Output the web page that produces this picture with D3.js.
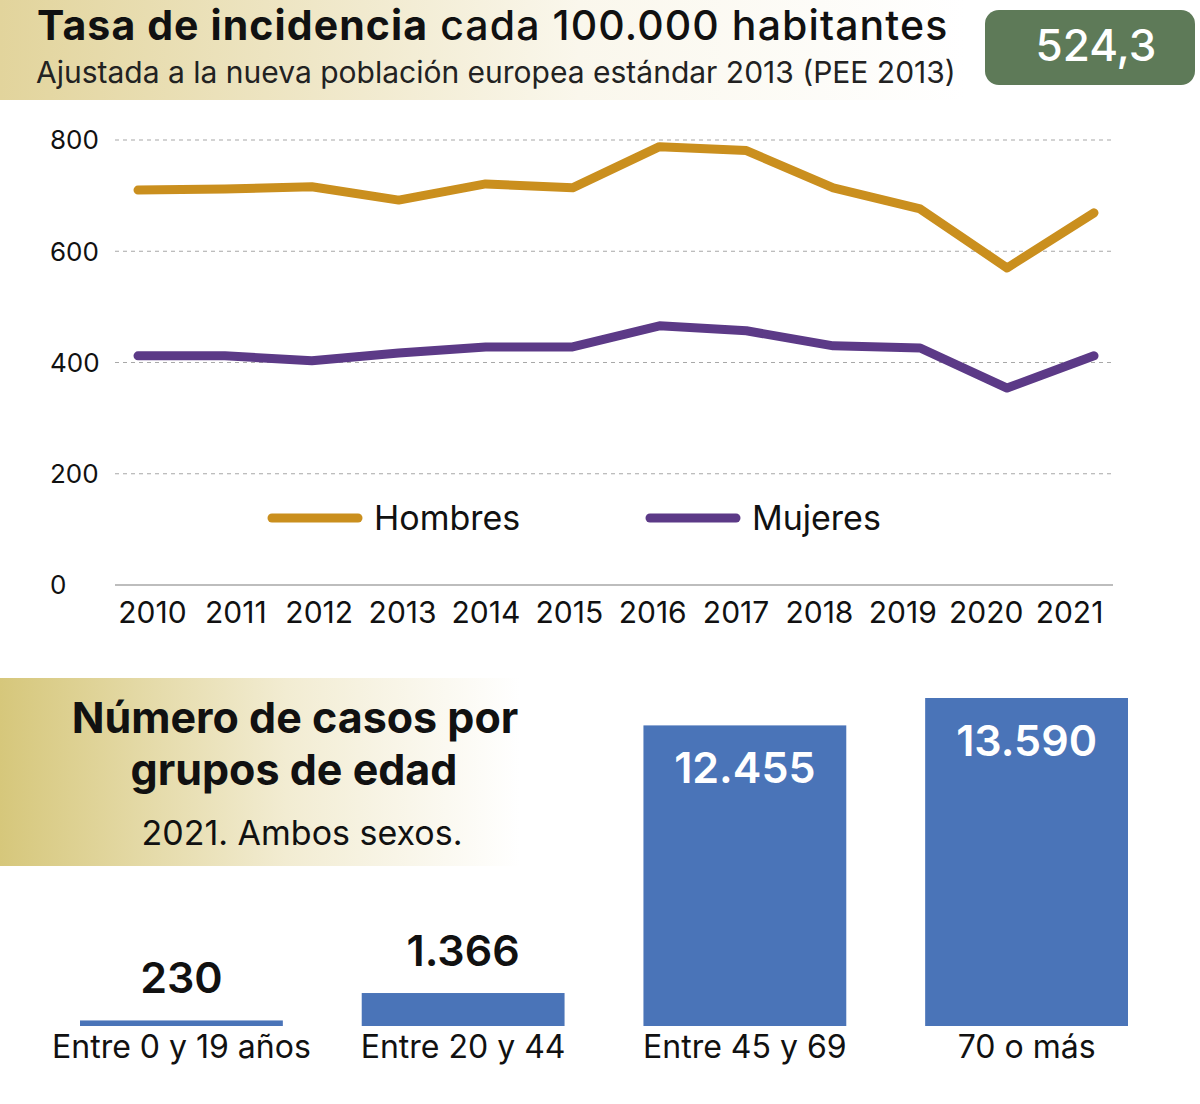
<!DOCTYPE html>
<html><head><meta charset="utf-8">
<script src="https://cdn.jsdelivr.net/npm/d3@7"></script>
<style>
html,body{margin:0;padding:0;background:#fff;}
svg{display:block;font-family:Inter, "Noto Sans", sans-serif;}
</style></head>
<body>
<svg id="c" width="1200" height="1104"></svg>
<script>
const years = ["2010","2011","2012","2013","2014","2015","2016","2017","2018","2019","2020","2021"];
const hombres = [710,712,716,692,721,714,788,781,714,676,570,669];
const mujeres = [412,412,403,417,428,428,466,457,430,426,354,412];
const yTicks = [0,200,400,600,800];
const ageGroups = ["Entre 0 y 19 años","Entre 20 y 44","Entre 45 y 69","70 o más"];
const ageCases = [230,1366,12455,13590];
const ageLabels = ["230","1.366","12.455","13.590"];
const totalRate = "524,3";

const svg = d3.select("#c");
const defs = svg.append("defs");
const g1 = defs.append("linearGradient").attr("id","gTop").attr("x1","0").attr("x2","1").attr("y1","0").attr("y2","0");
g1.append("stop").attr("offset","0").attr("stop-color","#E2D49C");
g1.append("stop").attr("offset","0.6").attr("stop-color","#FAF7EC");
g1.append("stop").attr("offset","1").attr("stop-color","#FFFFFF");
const g2 = defs.append("linearGradient").attr("id","gBot").attr("x1","0").attr("x2","1").attr("y1","0").attr("y2","0");
g2.append("stop").attr("offset","0").attr("stop-color","#D6C77B");
g2.append("stop").attr("offset","0.55").attr("stop-color","#F2ECD2");
g2.append("stop").attr("offset","1").attr("stop-color","#FFFFFF");

// Header
svg.append("rect").attr("x",0).attr("y",0).attr("width",965).attr("height",100).attr("fill","url(#gTop)");
const t = svg.append("text").attr("x",37).attr("y",40).attr("font-size",41).attr("letter-spacing",1.1).attr("fill","#111");
t.append("tspan").attr("font-weight",700).text("Tasa de incidencia");
t.append("tspan").attr("font-weight",500).text(" cada 100.000 habitantes");
svg.append("text").attr("x",36).attr("y",83).attr("font-size",30).attr("fill","#222")
  .text("Ajustada a la nueva población europea estándar 2013 (PEE 2013)");
svg.append("rect").attr("x",985).attr("y",10).attr("width",210).attr("height",75).attr("rx",14).attr("fill","#5E7A58");
svg.append("text").attr("x",1096).attr("y",61).attr("text-anchor","middle").attr("font-size",44).attr("font-weight",500).attr("fill","#fff").text(totalRate);

// Line chart
const yLine = d3.scaleLinear().domain([0,800]).range([585,140]);
const xLine = d3.scalePoint().domain(years).range([138,1094]);
const xLab = d3.scalePoint().domain(years).range([152,1069]);

const grid = svg.append("g");
grid.selectAll("line").data(yTicks.filter(d=>d>0)).join("line")
  .attr("x1",115).attr("x2",1113).attr("y1",d=>yLine(d)).attr("y2",d=>yLine(d))
  .attr("stroke","#a8a8a8").attr("stroke-width",1.2).attr("stroke-dasharray","4,4");
svg.append("line").attr("x1",115).attr("x2",1113).attr("y1",yLine(0)).attr("y2",yLine(0))
  .attr("stroke","#bdbdbd").attr("stroke-width",2);

const yAx = svg.append("g").attr("transform","translate(50,0)")
  .call(d3.axisRight(yLine).tickValues(yTicks).tickSize(0).tickPadding(0).tickFormat(d3.format("d")));
yAx.select(".domain").remove();
yAx.selectAll("text").attr("font-size",26).attr("fill","#111").attr("font-family","Inter, sans-serif").attr("dy","0.34em");

const xAx = svg.append("g").attr("transform","translate(0,601)")
  .call(d3.axisBottom(xLab).tickSize(0).tickPadding(0));
xAx.select(".domain").remove();
xAx.selectAll("text").attr("font-size",30).attr("fill","#111").attr("font-family","Inter, sans-serif").attr("dy","0.73em");

const line = d3.line().x((d,i)=>xLine(years[i])).y(d=>yLine(d));
svg.append("path").datum(hombres).attr("d",line).attr("fill","none").attr("stroke","#CA8F1E").attr("stroke-width",9).attr("stroke-linejoin","round").attr("stroke-linecap","round");
svg.append("path").datum(mujeres).attr("d",line).attr("fill","none").attr("stroke","#5C3A87").attr("stroke-width",9).attr("stroke-linejoin","round").attr("stroke-linecap","round");

// Legend
const legend = [{name:"Hombres",color:"#CA8F1E",x:272},{name:"Mujeres",color:"#5C3A87",x:650}];
const lg = svg.append("g").selectAll("g").data(legend).join("g").attr("transform",d=>`translate(${d.x},518)`);
lg.append("line").attr("x1",0).attr("x2",86).attr("stroke",d=>d.color).attr("stroke-width",9).attr("stroke-linecap","round");
lg.append("text").attr("x",102).attr("y",12).attr("font-size",34).attr("fill","#111").text(d=>d.name);

// Bottom section
svg.append("rect").attr("x",0).attr("y",678).attr("width",520).attr("height",188).attr("fill","url(#gBot)");
svg.append("text").attr("x",295).attr("y",733).attr("text-anchor","middle").attr("font-size",43).attr("font-weight",700).attr("fill","#111").text("Número de casos por");
svg.append("text").attr("x",294).attr("y",785).attr("text-anchor","middle").attr("font-size",43).attr("font-weight",700).attr("fill","#111").text("grupos de edad");
svg.append("text").attr("x",302).attr("y",845).attr("text-anchor","middle").attr("font-size",34).attr("fill","#111").text("2021. Ambos sexos.");

const xBar = d3.scaleBand().domain(ageGroups).range([80,1128]).paddingInner(0.28).paddingOuter(0);
const yBar = d3.scaleLinear().domain([0,13590]).range([1026,698]);
const bars = svg.append("g").selectAll("g").data(ageGroups).join("g");
bars.append("rect").attr("x",d=>xBar(d)).attr("width",xBar.bandwidth())
  .attr("y",(d,i)=>yBar(ageCases[i])).attr("height",(d,i)=>yBar(0)-yBar(ageCases[i])).attr("fill","#4A74B8");
bars.append("text").attr("x",d=>xBar(d)+xBar.bandwidth()/2).attr("text-anchor","middle")
  .attr("y",(d,i)=>ageCases[i]>5000 ? yBar(ageCases[i])+58 : yBar(ageCases[i])-27)
  .attr("font-size",43).attr("font-weight",600)
  .attr("fill",(d,i)=>ageCases[i]>5000?"#fff":"#111").text((d,i)=>ageLabels[i]);
bars.append("text").attr("x",d=>xBar(d)+xBar.bandwidth()/2).attr("y",1058).attr("text-anchor","middle")
  .attr("font-size",32).attr("fill","#111").text(d=>d);
</script>
</body></html>
